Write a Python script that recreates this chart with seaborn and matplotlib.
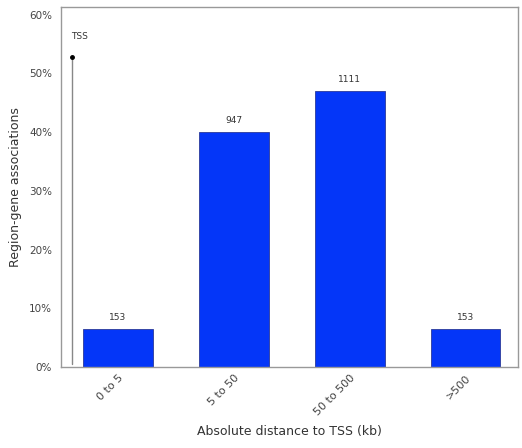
import matplotlib
matplotlib.use("Agg")
import matplotlib.pyplot as plt
import seaborn as sns
import pandas as pd
from matplotlib.ticker import PercentFormatter

categories = ["0 to 5", "5 to 50", "50 to 500", ">500"]
counts = [153, 947, 1111, 153]
total = sum(counts)
fractions = [c / total for c in counts]

df = pd.DataFrame({"category": categories, "fraction": fractions, "count": counts})

sns.set_style("white")
plt.rcParams["font.family"] = ["DejaVu Sans"]

fig = plt.figure(figsize=(5.22, 4.48), dpi=100)
ax = fig.add_axes([0.117, 0.181, 0.875, 0.803])

sns.barplot(data=df, x="category", y="fraction", color="#0436f8", width=0.6,
            saturation=1, edgecolor="#2a3a9a", linewidth=0.6, ax=ax)

for i, (f, c) in enumerate(zip(fractions, counts)):
    ax.text(i, f + 0.012, str(c), ha="center", va="bottom", fontsize=6.5, color="#333333")

ax.set_ylim(0, 0.613)
ax.set_xlim(-0.49, 3.45)
ax.set_yticks([0, 0.1, 0.2, 0.3, 0.4, 0.5, 0.6])
ax.yaxis.set_major_formatter(PercentFormatter(1.0, decimals=0))

# TSS marker
ax.plot([-0.40, -0.40], [0.005, 0.528], color="#888888", linewidth=1.0)
ax.plot([-0.40], [0.528], marker="o", markersize=2.5, color="black")
ax.text(-0.40, 0.555, "TSS", ha="left", va="bottom", fontsize=6.5, color="#333333")

for s in ax.spines.values():
    s.set_color("#999999")
    s.set_linewidth(1.0)

ax.tick_params(axis="both", which="both", direction="out", length=3, width=0.8,
               color="#999999", labelsize=7.5, labelcolor="#444444")
ax.tick_params(axis="x", length=0, labelsize=8, pad=4)
plt.setp(ax.get_xticklabels(), rotation=45, ha="right", rotation_mode="anchor")

ax.set_xlabel("Absolute distance to TSS (kb)", fontsize=9, color="#333333", labelpad=6)
ax.set_ylabel("Region-gene associations", fontsize=9, color="#333333", labelpad=5)

fig.savefig("out.png", dpi=100)
